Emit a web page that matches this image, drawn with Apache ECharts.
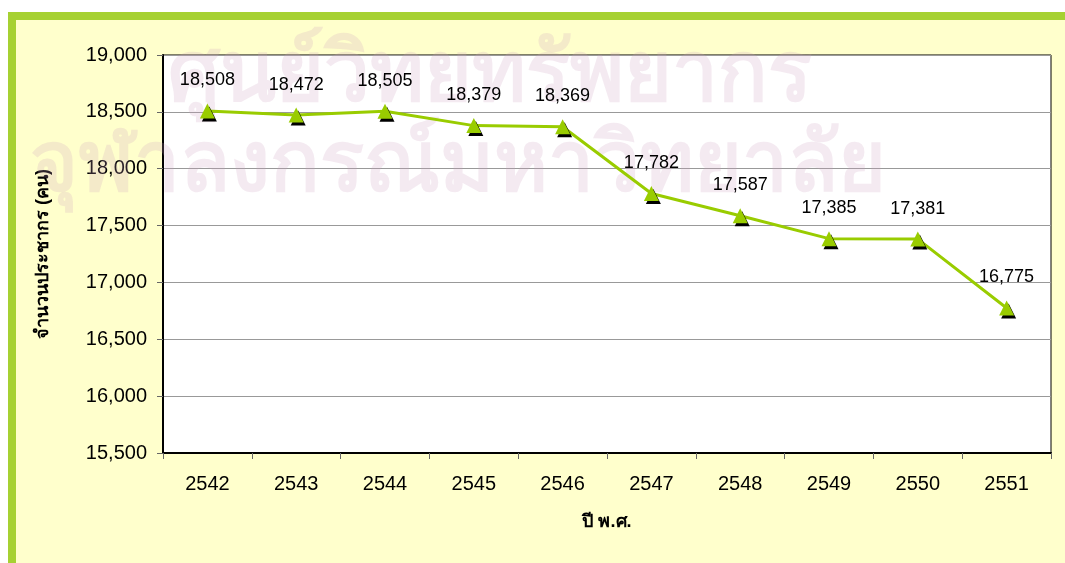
<!DOCTYPE html>
<html>
<head>
<meta charset="utf-8">
<script src="https://cdn.jsdelivr.net/npm/echarts@6/dist/echarts.min.js"></script>
<style>
  html, body { margin: 0; padding: 0; background: #fff; }
  #chart { width: 1065px; height: 563px; }
</style>
</head>
<body>
<div id="chart"></div>
<script>
// data
const years = ["2542", "2543", "2544", "2545", "2546", "2547", "2548", "2549", "2550", "2551"];
const population = [18508, 18472, 18505, 18379, 18369, 17782, 17587, 17385, 17381, 16775];

const chart = echarts.init(document.getElementById("chart"));
const font = "'Liberation Sans', Arial, sans-serif";
const markFill = "rgba(205,160,190,0.22)";

chart.setOption({
  animation: false,
  graphic: [
    { type: "rect", z: -10, shape: { x: 0, y: 0, width: 1065, height: 563 }, style: { fill: "#ffffff" } },
    { type: "rect", z: -9, shape: { x: 8, y: 12, width: 1057, height: 551 }, style: { fill: "#a6d132" } },
    { type: "rect", z: -8, shape: { x: 16, y: 20, width: 1049, height: 543 }, style: { fill: "#ffffcc" } },
    // faded watermark from the scanned page
    {
      type: "text", z: 1, left: 168, top: 36,
      style: { text: "ศูนย์วิทยทรัพยากร", fontSize: 82, fontWeight: "bold", fill: markFill, fontFamily: "'Noto Sans', 'DejaVu Sans', sans-serif" }
    },
    {
      type: "text", z: 1, left: 30, top: 126,
      style: { text: "จุฬาลงกรณ์มหาวิทยาลัย", fontSize: 82, fontWeight: "bold", fill: markFill, fontFamily: "'Noto Sans', 'DejaVu Sans', sans-serif" }
    }
  ],
  grid: {
    left: 163,
    right: 14,
    top: 55,
    bottom: 110,
    show: true,
    backgroundColor: "#ffffff",
    borderColor: "#000",
    borderWidth: 1
  },
  xAxis: {
    type: "category",
    data: years,
    boundaryGap: true,
    name: "ปี พ.ศ.",
    nameLocation: "middle",
    nameGap: 60,
    nameTextStyle: { fontSize: 18, fontWeight: "bold", color: "#000", fontFamily: font },
    axisLine: { lineStyle: { color: "#000", width: 2 } },
    axisTick: { show: true, length: 6, lineStyle: { color: "#666" } },
    axisLabel: { fontSize: 20, color: "#000", margin: 21, fontFamily: font }
  },
  yAxis: {
    type: "value",
    min: 15500,
    max: 19000,
    interval: 500,
    name: "จำนวนประชากร (คน)",
    nameLocation: "middle",
    nameGap: 111,
    nameTextStyle: { fontSize: 18, fontWeight: "bold", color: "#000", fontFamily: font },
    axisLine: { show: true, lineStyle: { color: "#000", width: 2 } },
    axisTick: { show: true, length: 6, lineStyle: { color: "#666" } },
    axisLabel: {
      fontSize: 20,
      color: "#000",
      margin: 16,
      fontFamily: font,
      formatter: (v) => v.toLocaleString("en-US")
    },
    splitLine: { lineStyle: { color: "#999", width: 1 } }
  },
  series: [
    {
      name: "population",
      type: "line",
      z: 5,
      data: population,
      symbol: "triangle",
      symbolSize: 15,
      lineStyle: { color: "#99cc00", width: 3 },
      itemStyle: {
        color: "#99cc00",
        shadowColor: "#000",
        shadowOffsetX: 2,
        shadowOffsetY: 3,
        shadowBlur: 0
      },
      label: {
        show: true,
        position: "top",
        distance: 14,
        fontSize: 18,
        color: "#000",
        fontFamily: font,
        formatter: (p) => p.value.toLocaleString("en-US")
      }
    }
  ]
});
</script>
</body>
</html>
